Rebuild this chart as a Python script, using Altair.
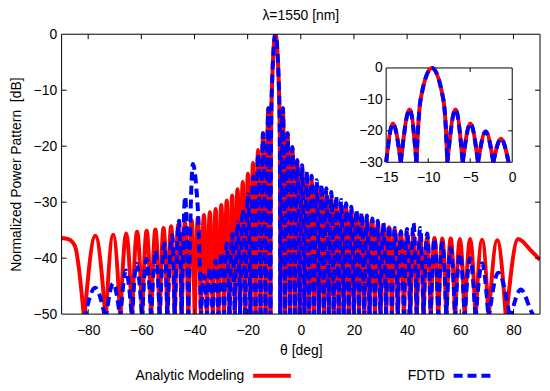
import altair as alt
import pandas as pd

# ---------------- values ----------------
XTICKS = [-80, -60, -40, -20, 0, 20, 40, 60, 80]
YTICKS = [0, -10, -20, -30, -40, -50]
INNER_YTICKS = [-10, -20, -30, -40]
INSET_XTICKS = [-15, -10, -5, 0]
INSET_YTICKS = [0, -10, -20, -30]
INSET_INNER_XTICKS = [-10, -5]
INSET_INNER_YTICKS = [-10, -20]
SERIES = ["Analytic Modeling", "FDTD"]
FLOOR = -51.0  # depth of every null (just below the -50 dB floor of the axis)

# Analytic modeling (red): null angles, lobe peaks, extra points
RED_NULLS = [-81.5, -73.4, -67.9, -63.5, -59.7, -56.3, -53.1, -50.2, -47.45, -44.83,
             -42.32, -39.9, -37.58, -35.32, -33.12, -30.98, -28.88, -26.83, -24.81,
             -22.82, -20.87, -18.94, -17.03, -15.14, -13.26, -11.4,
             -7.72, -5.89, -4.07, -2.25, -0.43, 1.39, 3.2, 5.03, 6.85, 8.69, 10.53,
             12.38, 14.25, 16.13, 18.03, 19.95, 21.9, 23.87, 25.87, 27.91, 29.98,
             32.1, 34.27, 36.5, 38.79, 41.16, 43.62, 46.19, 48.88, 51.72, 54.76,
             58.05, 61.66, 65.76, 70.66, 77.22]
RED_PEAK_THETA = [-77.3, -70.6, -65.7, -61.6, -58.0, -54.7, -51.65, -48.8, -46.1, -43.6,
                  -41.1, -38.74, -36.45, -34.22, -32.05, -29.93, -27.86, -25.82, -23.82,
                  -21.85, -19.9, -17.99, -16.09, -14.2, -12.2, -9.55,
                  -6.75, -4.98, -3.16, -1.34, 0.48, 2.3, 4.12, 5.94, 7.77, 9.61, 11.45,
                  13.31, 15.19, 17.08, 18.99, 20.92, 22.88, 24.87, 26.89, 28.94, 31.04,
                  33.18, 35.38, 37.64, 39.97, 42.39, 44.9, 47.53, 50.3, 53.24, 56.4,
                  59.85, 63.7, 68.2, 73.9]
RED_PEAK_DB = [-36.0, -35.8, -35.6, -35.3, -35.1, -34.9, -34.6, -34.3, -34.0, -33.6,
               -33.2, -32.8, -32.3, -31.8, -31.2, -30.5, -29.7, -28.8, -27.7,
               -26.4, -24.9, -23.0, -20.7, -17.7, -13.2, 0.0,
               -13.2, -17.7, -20.2, -22.5, -24.0, -25.2, -26.2, -27.1, -27.9, -28.6, -29.3,
               -29.9, -30.5, -31.0, -31.5, -32.0, -32.5, -32.9, -33.3, -33.7, -34.1,
               -34.5, -34.9, -35.3, -35.6, -35.9, -36.1, -36.3, -36.4, -36.5, -36.5,
               -36.6, -36.6, -36.7, -36.8]
RED_EXTRA_THETA = [-90.0, -87.5, -85.0, -11.22, -10.9, -8.2, -7.88, 81.8, 86.5, 90.0]
RED_EXTRA_DB = [-36.4, -36.6, -37.8, -20.0, -10.0, -10.0, -20.0, -36.6, -38.6, -40.3]

# FDTD (blue)
BLUE_NULLS = [-81.5, -73.4, -67.9, -63.5, -59.7, -56.3, -53.1, -50.2, -47.45, -44.83,
              -42.32, -37.58, -35.32, -33.12, -30.98, -28.88, -26.83, -24.81,
              -22.82, -20.87, -18.94, -17.03, -15.14, -13.26, -11.4,
              -7.72, -5.89, -4.07, -2.25, -0.43, 1.39, 3.2, 5.03, 6.85, 8.69, 10.53,
              12.38, 14.25, 16.13, 18.03, 19.95, 21.9, 23.87, 25.87, 27.91, 29.98,
              32.1, 34.27, 36.5, 38.79, 41.16, 43.62, 46.19, 48.88, 51.72, 54.76,
              58.05, 61.66, 65.76, 70.66, 78.8]
BLUE_PEAK_THETA = [-77.4, -70.6, -65.8, -61.8, -58.1, -54.6, -51.3, -48.4, -45.8, -43.5,
                   -40.6, -36.45, -34.22, -32.05, -29.93, -27.86, -25.82, -23.82,
                   -21.85, -19.9, -17.99, -16.09, -14.2, -12.2, -9.55,
                   -6.75, -4.98, -3.16, -1.34, 0.48, 2.3, 4.12, 5.94, 7.77, 9.61, 11.45,
                   13.31, 15.19, 17.08, 18.99, 20.92, 22.88, 24.87, 26.89, 28.94, 31.04,
                   33.18, 35.38, 37.64, 39.97, 42.39, 44.9, 47.53, 50.3, 53.24, 56.4,
                   59.85, 63.7, 68.2, 74.3]
BLUE_PEAK_DB = [-45.3, -44.5, -42.2, -41.0, -40.1, -38.7, -37.4, -35.9, -33.3, -29.0,
                -23.2, -43.0, -41.7, -40.4, -39.0, -37.4, -35.7, -33.6,
                -31.3, -28.6, -25.4, -21.4, -17.7, -13.2, 0.0,
                -13.2, -17.7, -20.2, -22.5, -23.4, -24.4, -25.3, -26.1, -26.8, -27.5, -28.2,
                -28.9, -29.6, -30.2, -30.8, -31.4, -31.9, -32.4, -32.9, -33.3, -33.7,
                -34.1, -34.6, -35.2, -34.8, -33.7, -34.6, -35.6, -36.5, -37.3, -38.2,
                -39.2, -40.0, -40.9, -42.6]
BLUE_EXTRA_THETA = [-39.3, -38.4, -11.22, -10.9, -8.2, -7.88, 82.8, 86.6, 90.0]
BLUE_EXTRA_DB = [-27.5, -35.0, -20.0, -10.0, -10.0, -20.0, -45.6, -49.4, -52.5]


def lobes(name, nulls, pth, pdb, eth, edb):
    segs = {}
    for i in range(len(nulls) - 1):
        segs[i + 1] = [(nulls[i], FLOOR), (pth[i], pdb[i]), (nulls[i + 1], FLOOR)]
    for t, d in zip(eth, edb):
        if t < nulls[0]:
            segs.setdefault(0, [(nulls[0], FLOOR)]).append((t, d))
        elif t > nulls[-1]:
            segs.setdefault(len(nulls), [(nulls[-1], FLOOR)]).append((t, d))
        else:
            for i in range(len(nulls) - 1):
                if nulls[i] < t < nulls[i + 1]:
                    segs[i + 1].append((t, d))
                    break
    rows = []
    for k, pts in segs.items():
        pts = sorted(pts)
        peak = max(pts, key=lambda p: p[1])[0]
        for t, d in pts:
            rows.append({"theta": t, "db": d, "seg": k, "peak": peak, "series": name})
    return pd.DataFrame(rows)


red_df = lobes(SERIES[0], RED_NULLS, RED_PEAK_THETA, RED_PEAK_DB, RED_EXTRA_THETA, RED_EXTRA_DB)
blue_df = lobes(SERIES[1], BLUE_NULLS, BLUE_PEAK_THETA, BLUE_PEAK_DB, BLUE_EXTRA_THETA, BLUE_EXTRA_DB)
red_in = red_df[(red_df.peak >= -15) & (red_df.peak <= 0)]
blue_in = blue_df[(blue_df.peak >= -15) & (blue_df.peak <= 0)]

# ---------------- layout ----------------
W, H = 482, 282
FONT = "Liberation Sans"
RED, BLUE = "#ff0000", "#0000ff"
LW = 4
DASH = [9, 5]

xs = alt.Scale(domain=[-90, 90], nice=False, zero=False)
ys = alt.Scale(domain=[-50, 0], nice=False, zero=False)

x_axis = alt.Axis(values=XTICKS, ticks=False, domain=False, grid=False, labelFlush=False,
                  labelFont=FONT, labelFontSize=14, labelColor="black", labelPadding=10,
                  titleFont=FONT, titleFontSize=14, titleFontWeight="normal", titleColor="black",
                  titleY=37, titleBaseline="middle")
y_axis = alt.Axis(values=YTICKS, ticks=False, domain=False, grid=False, labelFlush=False,
                  labelFont=FONT, labelFontSize=14, labelColor="black", labelPadding=5,
                  titleFont=FONT, titleFontSize=14, titleFontWeight="normal", titleColor="black",
                  titleX=-38, titleY=H / 2, titleBaseline="bottom", titleAlign="center")

red = alt.Chart(red_df).mark_line(color=RED, strokeWidth=LW, interpolate="monotone", clip=True).encode(
    x=alt.X("theta:Q", scale=xs, axis=x_axis, title="θ [deg]"),
    y=alt.Y("db:Q", scale=ys, axis=y_axis, title="Normalized Power Pattern\u00a0 [dB]"),
    detail="seg:N",
)
blue = alt.Chart(blue_df).mark_line(color=BLUE, strokeWidth=LW, strokeDash=DASH,
                                    interpolate="monotone", clip=True).encode(
    x=alt.X("theta:Q", scale=xs), y=alt.Y("db:Q", scale=ys), detail="seg:N")

frame_df = pd.DataFrame({"theta": [-90], "theta2": [90], "db": [-50], "db2": [0]})
frame = alt.Chart(frame_df).mark_rect(fillOpacity=0, stroke="black", strokeWidth=1).encode(
    x=alt.X("theta:Q", scale=xs), x2="theta2:Q", y=alt.Y("db:Q", scale=ys), y2="db2:Q")

xt = pd.DataFrame({"theta": XTICKS})
yt = pd.DataFrame({"db": INNER_YTICKS})
tick_b = alt.Chart(xt).mark_rule(color="black", y2Offset=-5).encode(
    x=alt.X("theta:Q", scale=xs), y=alt.datum(-50), y2=alt.datum(-50))
tick_t = alt.Chart(xt).mark_rule(color="black", y2Offset=5).encode(
    x=alt.X("theta:Q", scale=xs), y=alt.datum(0), y2=alt.datum(0))
tick_l = alt.Chart(yt).mark_rule(color="black", x2Offset=5).encode(
    y=alt.Y("db:Q", scale=ys), x=alt.datum(-90), x2=alt.datum(-90))
tick_r = alt.Chart(yt).mark_rule(color="black", x2Offset=-5).encode(
    y=alt.Y("db:Q", scale=ys), x=alt.datum(90), x2=alt.datum(90))

# legend (gnuplot style: label then sample)
LEG_Y = 344
leg = []
for lab, tx, x0, x1, col, dash in [(SERIES[0], 184, 193, 231, RED, None),
                                    (SERIES[1], 386, 395, 433, BLUE, DASH)]:
    d = pd.DataFrame({"label": [lab]})
    leg.append(alt.Chart(d).mark_text(align="right", baseline="middle", font=FONT, fontSize=14,
                                      color="black").encode(
        text="label:N", x=alt.value(tx), y=alt.value(LEG_Y)))
    rk = dict(color=col, strokeWidth=LW)
    if dash:
        rk["strokeDash"] = dash
    leg.append(alt.Chart(d).mark_rule(**rk).encode(
        x=alt.value(x0), x2=alt.value(x1), y=alt.value(LEG_Y)))

main = alt.layer(red, blue, frame, tick_b, tick_t, tick_l, tick_r, *leg)

# ---------------- inset ----------------
ixs = alt.Scale(domain=[-15, 0], range=[327, 454], clamp=True, nice=False, zero=False)
iys = alt.Scale(domain=[-30, 0], range=[129, 34], clamp=True, nice=False, zero=False)
ix_axis = alt.Axis(orient="bottom", offset=-153, values=INSET_XTICKS, ticks=False, domain=False,
                   grid=False, labelFlush=False, labelFont=FONT, labelFontSize=14,
                   labelColor="black", labelPadding=8, title=None)
iy_axis = alt.Axis(orient="left", offset=-327, values=INSET_YTICKS, ticks=False, domain=False,
                   grid=False, labelFlush=False, labelFont=FONT, labelFontSize=14,
                   labelColor="black", labelPadding=4, title=None)

iframe_df = pd.DataFrame({"theta": [-15], "theta2": [0], "db": [-30], "db2": [0]})
iframe = alt.Chart(iframe_df).mark_rect(fillOpacity=0, stroke="black", strokeWidth=1).encode(
    x=alt.X("theta:Q", scale=ixs, axis=ix_axis), x2="theta2:Q",
    y=alt.Y("db:Q", scale=iys, axis=iy_axis), y2="db2:Q")
ixt = pd.DataFrame({"theta": INSET_INNER_XTICKS})
iyt = pd.DataFrame({"db": INSET_INNER_YTICKS})
itick_b = alt.Chart(ixt).mark_rule(color="black", y2Offset=-4).encode(
    x=alt.X("theta:Q", scale=ixs), y=alt.datum(-30), y2=alt.datum(-30))
itick_t = alt.Chart(ixt).mark_rule(color="black", y2Offset=4).encode(
    x=alt.X("theta:Q", scale=ixs), y=alt.datum(0), y2=alt.datum(0))
itick_l = alt.Chart(iyt).mark_rule(color="black", x2Offset=4).encode(
    y=alt.Y("db:Q", scale=iys), x=alt.datum(-15), x2=alt.datum(-15))
itick_r = alt.Chart(iyt).mark_rule(color="black", x2Offset=-4).encode(
    y=alt.Y("db:Q", scale=iys), x=alt.datum(0), x2=alt.datum(0))
ired = alt.Chart(red_in).mark_line(color=RED, strokeWidth=LW, interpolate="monotone").encode(
    x=alt.X("theta:Q", scale=ixs), y=alt.Y("db:Q", scale=iys), detail="seg:N")
iblue = alt.Chart(blue_in).mark_line(color=BLUE, strokeWidth=LW, strokeDash=DASH,
                                     interpolate="monotone").encode(
    x=alt.X("theta:Q", scale=ixs), y=alt.Y("db:Q", scale=iys), detail="seg:N")

inset = alt.layer(iframe, itick_b, itick_t, itick_l, itick_r, ired, iblue)

chart = alt.layer(main, inset).resolve_scale(x="independent", y="independent").properties(
    width=W, height=H,
    title=alt.TitleParams("λ=1550 [nm]", font=FONT, fontSize=14, fontWeight="normal",
                          color="black", anchor="middle", frame="group", offset=4),
    padding={"left": 54, "top": 25, "right": 2, "bottom": 71},
    autosize=alt.AutoSizeParams(type="none"),
).configure_view(stroke=None)

chart.save("out.html", embed_options={"renderer": "svg", "actions": False})
